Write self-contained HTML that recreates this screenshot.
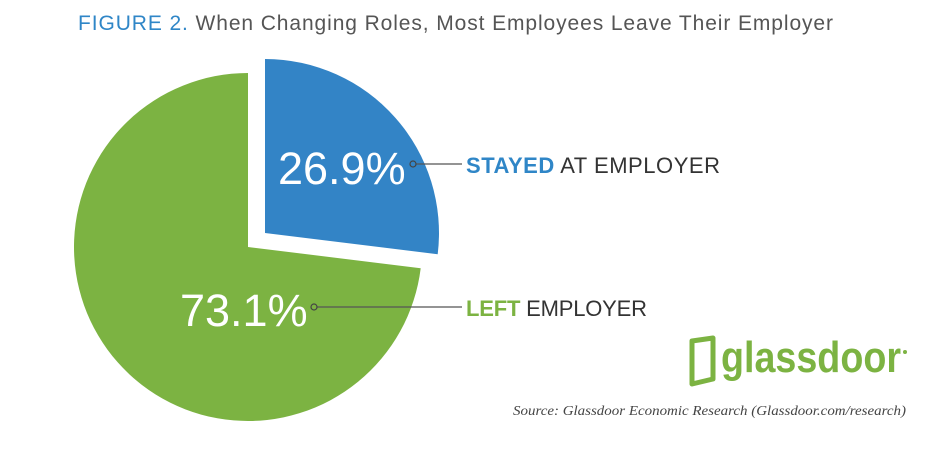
<!DOCTYPE html>
<html><head><style>
body{margin:0;width:943px;height:454px;background:#fff;overflow:hidden;font-family:"Liberation Sans",sans-serif}
</style></head><body>
<svg width="943" height="454" xmlns="http://www.w3.org/2000/svg">
<text x="78" y="30" font-size="21" fill="#555" font-family="Liberation Sans" textLength="755" lengthAdjust="spacing"><tspan fill="#2f86c7">FIGURE 2.</tspan> When Changing Roles, Most Employees Leave Their Employer</text>
<path d="M248,247 L248,73 A174,174 0 1 0 420.7,268.2 Z" fill="#7cb342"/>
<path d="M265,233 L265,59 A174,174 0 0 1 437.7,254.2 Z" fill="#3384c6"/>
<text x="278" y="184" font-size="45" fill="#fff" font-family="Liberation Sans">26.9%</text>
<text x="180" y="326" font-size="45" fill="#fff" font-family="Liberation Sans">73.1%</text>
<line x1="416" y1="164" x2="462" y2="164" stroke="#555" stroke-width="1.2"/>
<circle cx="413" cy="164" r="3" fill="none" stroke="#444" stroke-width="1.2"/>
<line x1="317" y1="307" x2="462" y2="307" stroke="#555" stroke-width="1.2"/>
<circle cx="314" cy="307" r="3" fill="none" stroke="#444" stroke-width="1.2"/>
<text x="466" y="173" font-size="22" fill="#333" textLength="254" lengthAdjust="spacing"><tspan fill="#2f86c7" font-weight="bold">STAYED</tspan> AT EMPLOYER</text>
<text x="466" y="316" font-size="22" fill="#333" textLength="181" lengthAdjust="spacing"><tspan fill="#7cb342" font-weight="bold">LEFT</tspan> EMPLOYER</text>
<path d="M692,341 L713,338 L713,379 L692,384 Z" fill="none" stroke="#7cb342" stroke-width="5" stroke-linejoin="round"/>
<text x="721" y="372" font-size="44" font-weight="bold" fill="#7cb342" textLength="180" lengthAdjust="spacingAndGlyphs">glassdoor</text>
<circle cx="905" cy="352" r="2" fill="#7cb342"/>
<text x="513" y="415" font-size="14" font-style="italic" fill="#444" font-family="Liberation Serif" textLength="393" lengthAdjust="spacingAndGlyphs">Source: Glassdoor Economic Research (Glassdoor.com/research)</text>
</svg>
</body></html>
